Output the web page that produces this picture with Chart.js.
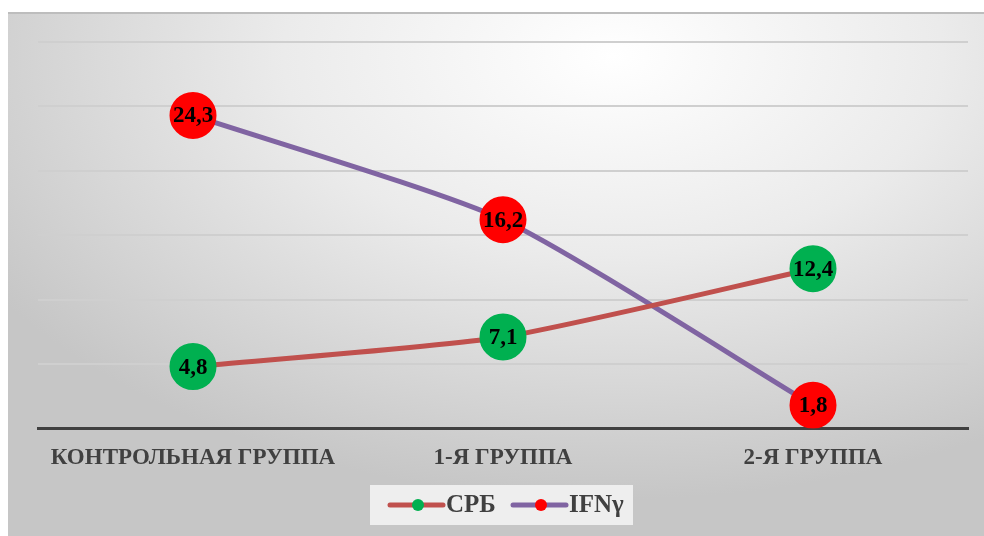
<!DOCTYPE html>
<html>
<head>
<meta charset="utf-8">
<script src="https://cdn.jsdelivr.net/npm/chart.js@4.4.0/dist/chart.umd.min.js"></script>
<style>
  html, body { margin: 0; padding: 0; background: #fff; }
  #wrap {
    position: absolute; left: 8px; top: 12px; width: 976px; height: 524px;
    background: radial-gradient(ellipse 75% 85% at 62% 8%, #ffffff 0%, #ebebeb 45%, #c6c6c6 100%);
    border-top: 2px solid #bdbdbd;
    box-sizing: border-box;
  }
  canvas { display: block; }
</style>
</head>
<body>
<div id="wrap"><canvas id="myChart" width="976" height="522"></canvas></div>
<script>
// данные
const categories = ['КОНТРОЛЬНАЯ ГРУППА', '1-Я ГРУППА', '2-Я ГРУППА'];
const crbValues = [4.8, 7.1, 12.4];
const ifnValues = [24.3, 16.2, 1.8];
const seriesNames = ['СРБ', 'IFNγ'];
const yTicks = [0, 5, 10, 15, 20, 25, 30];

const FONT = '"Liberation Serif", "Times New Roman", serif';

// подписи значений в точках
const valueLabels = {
  id: 'valueLabels',
  afterDatasetsDraw(chart) {
    const ctx = chart.ctx;
    ctx.save();
    ctx.font = 'bold 23px ' + FONT;
    ctx.fillStyle = '#000';
    ctx.textAlign = 'center';
    ctx.textBaseline = 'middle';
    chart.data.datasets.forEach((ds, i) => {
      chart.getDatasetMeta(i).data.forEach((pt, j) => {
        ctx.fillText(String(ds.data[j]).replace('.', ','), pt.x, pt.y + 1);
      });
    });
    ctx.restore();
  }
};

// своя легенда: линия с точкой + текст, на светлой плашке
const customLegend = {
  id: 'customLegend',
  afterDraw(chart) {
    const ctx = chart.ctx;
    const cy = 491;
    const itemX = [382, 505];
    ctx.save();
    ctx.fillStyle = 'rgba(242,242,242,0.9)';
    ctx.fillRect(362, cy - 20, 263, 40);
    ctx.font = 'bold 25px ' + FONT;
    ctx.textBaseline = 'middle';
    ctx.textAlign = 'left';
    chart.data.datasets.forEach((ds, i) => {
      const x = itemX[i];
      ctx.strokeStyle = ds.borderColor;
      ctx.lineWidth = 5;
      ctx.lineCap = 'round';
      ctx.beginPath(); ctx.moveTo(x, cy); ctx.lineTo(x + 53, cy); ctx.stroke();
      ctx.fillStyle = ds.pointBackgroundColor;
      ctx.beginPath(); ctx.arc(x + 28, cy, 6, 0, Math.PI * 2); ctx.fill();
      ctx.fillStyle = '#404040';
      ctx.fillText(ds.label, x + 56, cy + 1);
    });
    ctx.restore();
  }
};

const ctx = document.getElementById('myChart').getContext('2d');
const chart = new Chart(ctx, {
  type: 'line',
  data: {
    labels: categories,
    datasets: [{
      label: seriesNames[0],
      data: crbValues,
      borderColor: '#c0504d',
      borderWidth: 5,
      pointBackgroundColor: '#00b050',
      pointBorderColor: '#00b050',
      pointRadius: 21,
      pointStyle: 'circle',
      tension: 0.2
    }, {
      label: seriesNames[1],
      data: ifnValues,
      borderColor: '#8064a2',
      borderWidth: 5,
      pointBackgroundColor: '#ff0000',
      pointBorderColor: '#ff0000',
      pointRadius: 21,
      pointStyle: 'circle',
      tension: 0.2
    }]
  },
  options: {
    responsive: false,
    animation: false,
    layout: { autoPadding: false, padding: { left: 30, right: 16, top: 28, bottom: 48 } },
    plugins: {
      tooltip: { enabled: false },
      legend: { display: false }
    },
    scales: {
      x: {
        offset: true,
        afterFit(axis) { axis.paddingLeft = 0; axis.paddingRight = 0; },
        grid: { display: false, drawTicks: false },
        border: { display: true, color: '#404040', width: 3 },
        ticks: {
          color: '#404040',
          font: { family: FONT, size: 23, weight: 'bold' },
          padding: 16,
          maxRotation: 0
        }
      },
      y: {
        min: yTicks[0],
        max: yTicks[yTicks.length - 1],
        afterBuildTicks(axis) { axis.ticks = yTicks.map(v => ({ value: v })); },
        grid: { color: '#cfcfcf', lineWidth: 2, drawTicks: false },
        border: { display: false },
        ticks: { display: false }
      }
    }
  },
  plugins: [valueLabels, customLegend]
});
</script>
</body>
</html>
